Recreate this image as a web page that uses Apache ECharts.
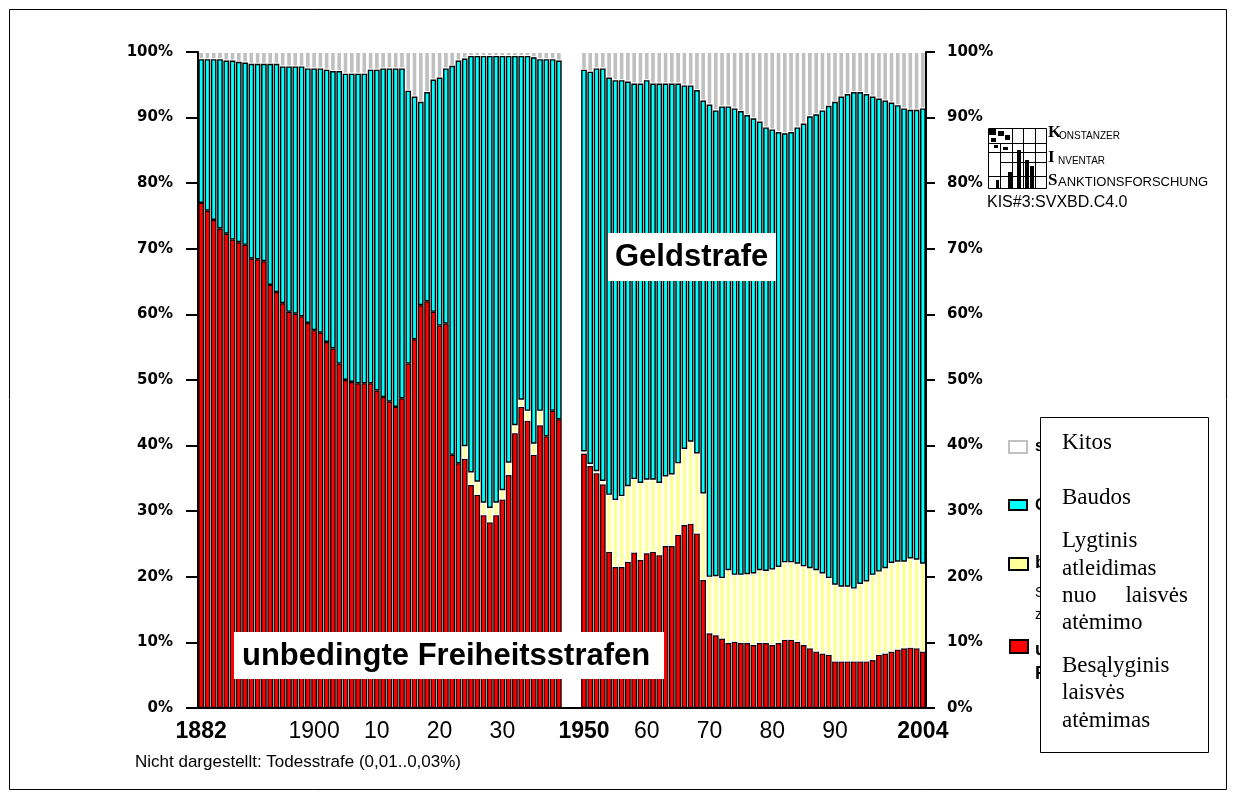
<!DOCTYPE html>
<html><head><meta charset="utf-8">
<script src="https://cdn.jsdelivr.net/npm/echarts@6/dist/echarts.min.js"></script>
<style>html,body{margin:0;padding:0;background:#fff}#c{width:1234px;height:799px}</style>
</head><body><div id="c"></div>
<script>
// ---- categories: 1882-1939, compressed gap, 1950-2004 ----
const yearsA = [];
for (let y = 1882; y <= 1939; y++) yearsA.push(String(y));
const gapSlots = ['', ' ', '  '];
const yearsB = [];
for (let y = 1950; y <= 2004; y++) yearsB.push(String(y));
const categories = yearsA.concat(gapSlots, yearsB);

const xTickLabels = {'1882':'{b|1882}','1900':'1900','1910':'10','1920':'20','1930':'30',
  '1950':'{b|1950}','1960':'60','1970':'70','1980':'80','1990':'90','2004':'{b|2004}'};

// ---- shares in percent, 1882-1939 ----
const redA = [77.0,75.8,74.4,73.1,72.3,71.4,71.0,70.6,68.5,68.4,
  68.1,64.5,63.4,61.7,60.4,60.1,59.7,58.7,57.6,57.2,
  55.8,54.8,52.5,50.0,49.7,49.5,49.5,49.5,48.4,47.4,
  46.7,45.9,47.2,52.5,56.2,61.4,62.0,60.4,58.3,58.6,
  38.6,37.3,38.0,34.0,32.5,29.4,28.3,29.4,31.8,35.5,
  41.9,45.9,43.8,38.6,43.1,41.4,45.3,44.0];
const yellowA = [0,0,0,0,0,0,0,0,0,0,
  0,0,0,0,0,0,0,0,0,0,
  0,0,0,0,0,0,0,0,0,0,
  0,0,0,0,0,0,0,0,0,0,
  0,0,1.9,1.9,2.0,1.9,2.2,1.9,1.4,1.9,
  1.2,1.1,1.5,1.7,2.2,0,0,0];
const cyanA = [21.9,23.1,24.5,25.8,26.4,27.3,27.5,27.8,29.7,29.8,
  30.1,33.7,34.8,36.1,37.4,37.7,38.1,38.8,39.9,40.3,
  41.5,42.3,44.6,46.7,47.0,47.2,47.2,47.8,48.9,50.1,
  50.8,51.6,50.3,41.6,37.0,31.0,31.9,35.4,37.8,38.9,
  59.3,61.4,59.1,63.5,64.9,68.1,68.9,68.1,66.2,62.0,
  56.3,52.4,54.1,58.9,53.6,57.5,53.6,54.7];
const grayA = [1.1,1.1,1.1,1.1,1.3,1.3,1.5,1.6,1.8,1.8,
  1.8,1.8,1.8,2.2,2.2,2.2,2.2,2.5,2.5,2.5,
  2.7,2.9,2.9,3.3,3.3,3.3,3.3,2.7,2.7,2.5,
  2.5,2.5,2.5,5.9,6.8,7.6,6.1,4.2,3.9,2.5,
  2.1,1.3,1.0,0.6,0.6,0.6,0.6,0.6,0.6,0.6,
  0.6,0.6,0.6,0.8,1.1,1.1,1.1,1.3];

// ---- shares in percent, 1950-2004 ----
const redB = [38.8,36.9,35.8,34.1,23.8,21.5,21.5,22.3,23.7,22.6,
  23.6,23.8,23.3,24.7,24.7,26.4,27.9,28.1,26.6,19.5,
  11.4,11.1,10.6,9.9,10.1,9.9,9.9,9.6,9.9,9.9,
  9.6,9.9,10.4,10.4,10.1,9.6,9.1,8.6,8.3,8.1,
  7.1,7.1,7.1,7.1,7.1,7.1,7.3,8.1,8.3,8.6,
  8.9,9.1,9.2,9.1,8.6];
const yellowB = [0.3,0.3,0.3,0.5,8.7,10.2,10.8,11.5,11.2,11.7,
  11.2,11.0,11.0,10.6,10.9,10.9,11.6,12.5,12.2,13.2,
  8.6,9.0,9.2,11.1,10.2,10.4,10.5,10.9,11.1,11.0,
  11.5,11.6,11.8,11.8,11.9,12.0,12.2,12.4,12.2,11.7,
  11.7,11.4,11.4,11.1,11.8,12.2,13.0,12.7,13.0,13.5,
  13.4,13.2,13.6,13.5,13.4];
const cyanB = [58.2,59.8,61.4,62.9,63.6,64.0,63.4,61.7,60.3,60.9,
  60.9,60.4,60.9,59.9,59.6,57.9,55.4,54.3,55.4,59.9,
  72.0,71.0,71.9,70.7,71.1,70.7,70.0,69.4,68.4,67.6,
  67.1,66.3,65.4,65.6,66.5,67.5,68.9,69.5,70.6,72.0,
  73.6,74.7,75.1,75.7,75.0,74.3,72.9,72.1,71.3,70.2,
  69.6,69.1,68.4,68.6,69.4];
const grayB = [2.7,3.0,2.5,2.5,3.9,4.3,4.3,4.5,4.8,4.8,
  4.3,4.8,4.8,4.8,4.8,4.8,5.1,5.1,5.8,7.4,
  8.0,8.9,8.3,8.3,8.6,9.0,9.6,10.1,10.6,11.5,
  11.8,12.2,12.4,12.2,11.5,10.9,9.8,9.5,8.9,8.2,
  7.6,6.8,6.4,6.1,6.1,6.4,6.8,7.1,7.4,7.7,
  8.1,8.6,8.8,8.8,8.6];

const gapValues = [null, null, null];
const red = redA.concat(gapValues, redB);
const yellow = yellowA.concat(gapValues, yellowB);
const cyan = cyanA.concat(gapValues, cyanB);
const gray = grayA.concat(gapValues, grayB);

function barSeries(name, data, color, border, bw, z) {
  return {
    name: name, type: 'bar', stack: 'total', z: z,
    data: data.map(v => (v ? v : null)),
    barCategoryGap: '10%',
    itemStyle: { color: color, borderColor: border, borderWidth: bw },
    emphasis: { disabled: true }, animation: false
  };
}

const yLab = { formatter: '{value}%', fontFamily: 'DejaVu Sans', fontWeight: 'bold', fontSize: 15, color: '#000' };
const serif = { fontFamily: 'Liberation Serif', fontSize: 23, fill: '#000', verticalAlign: 'middle', textVerticalAlign: 'middle' };
function boxText(x, y, t, extra) {
  return { type: 'text', z: 61, x: x, y: y, style: Object.assign({ text: t }, serif, extra || {}) };
}
function line(x1, y1, x2, y2) {
  return { type: 'polyline', z: 50, shape: { points: [[x1, y1], [x2, y2]] }, style: { stroke: '#000', lineWidth: 1 } };
}
function blk(x, y, w, h) {
  return { type: 'rect', z: 50, shape: { x: x, y: y, width: w, height: h }, style: { fill: '#000' } };
}
function hidText(y, t, size, bold) {
  return { type: 'text', z: 50, x: 1035, y: y, style: { text: t, fontFamily: 'Liberation Sans', fontWeight: bold ? 'bold' : 'normal', fontSize: size, fill: '#000', verticalAlign: 'middle', textVerticalAlign: 'middle' } };
}

const chart = echarts.init(document.getElementById('c'), null, { renderer: 'canvas' });
chart.setOption({
  animation: false,
  backgroundColor: '#fff',
  grid: { left: 198, right: 308, top: 52, bottom: 91, containLabel: false },
  xAxis: [{
    type: 'category', data: categories, position: 'bottom', z: 10,
    axisLine: { lineStyle: { color: '#000', width: 2 } },
    axisTick: { show: false },
    axisLabel: {
      interval: 0, margin: 12, fontFamily: 'Liberation Sans', fontSize: 23, color: '#000',
      formatter: v => xTickLabels[v] || '',
      rich: { b: { fontFamily: 'Liberation Sans', fontSize: 23, fontWeight: 'bold', color: '#000' } }
    }
  }, {
    type: 'category', data: categories, position: 'top', z: 10,
    axisLine: { lineStyle: { color: '#000', width: 2 } },
    axisTick: { show: false }, axisLabel: { show: false }
  }],
  yAxis: [{
    type: 'value', min: 0, max: 100, interval: 10, position: 'left', z: 10,
    axisLine: { show: true, lineStyle: { color: '#000', width: 2 } },
    axisTick: { show: true, length: 12, lineStyle: { color: '#000', width: 2 } },
    splitLine: { show: false },
    axisLabel: Object.assign({ margin: 25 }, yLab)
  }, {
    type: 'value', min: 0, max: 100, interval: 10, position: 'right', z: 10,
    axisLine: { show: true, lineStyle: { color: '#000', width: 2 } },
    axisTick: { show: true, length: 9, lineStyle: { color: '#000', width: 2 } },
    splitLine: { show: false },
    axisLabel: Object.assign({ margin: 21 }, yLab)
  }],
  series: [
    barSeries('unbedingte Freiheitsstrafe', red, '#ff0000', '#000', 1.2, 3),
    barSeries('bedingte Freiheitsstrafe', yellow, '#ffff99', '#fff', 1, 4),
    barSeries('Geldstrafe', cyan, '#00ffff', '#000', 1.4, 5),
    barSeries('sonstige', gray, '#c0c0c0', '#fff', 1, 2)
  ],
  graphic: [
    // outer frame
    { type: 'rect', z: 50, shape: { x: 9.5, y: 9.5, width: 1217, height: 780 }, style: { fill: 'none', stroke: '#000', lineWidth: 1 } },
    // in-chart labels
    { type: 'rect', z: 50, shape: { x: 234, y: 632, width: 430, height: 47 }, style: { fill: '#fff' } },
    { type: 'text', z: 51, x: 242, y: 656, style: { text: 'unbedingte Freiheitsstrafen', fontFamily: 'Liberation Sans', fontWeight: 'bold', fontSize: 31, fill: '#000', align: 'left', verticalAlign: 'middle', textAlign: 'left', textVerticalAlign: 'middle' } },
    { type: 'rect', z: 50, shape: { x: 608, y: 233, width: 168, height: 48 }, style: { fill: '#fff' } },
    { type: 'text', z: 51, x: 615, y: 257, style: { text: 'Geldstrafe', fontFamily: 'Liberation Sans', fontWeight: 'bold', fontSize: 31, fill: '#000', align: 'left', verticalAlign: 'middle', textAlign: 'left', textVerticalAlign: 'middle' } },
    // legend swatches
    { type: 'rect', z: 50, shape: { x: 1009, y: 441, width: 18, height: 12 }, style: { fill: '#fff', stroke: '#c0c0c0', lineWidth: 2 } },
    { type: 'rect', z: 50, shape: { x: 1009, y: 500, width: 18, height: 10 }, style: { fill: '#00ffff', stroke: '#000', lineWidth: 2 } },
    { type: 'rect', z: 50, shape: { x: 1009, y: 558, width: 19, height: 12 }, style: { fill: '#ffff99', stroke: '#000', lineWidth: 2 } },
    { type: 'rect', z: 50, shape: { x: 1010, y: 640, width: 18, height: 13 }, style: { fill: '#ff0000', stroke: '#000', lineWidth: 2 } },
    // original legend text, mostly covered by the box
    hidText(447, 'sonstige', 16, true),
    hidText(506, 'Geldstrafe', 16, true),
    hidText(563, 'bedingte', 18, true),
    hidText(593, 'Strafaussetzung', 14, false),
    hidText(615, 'zur Bewährung', 14, false),
    hidText(650, 'unbedingte', 18, true),
    hidText(674, 'Freiheitsstrafe', 18, true),
    // translated legend box
    { type: 'rect', z: 60, shape: { x: 1040.5, y: 417.5, width: 168, height: 335 }, style: { fill: '#fff', stroke: '#000', lineWidth: 1 } },
    boxText(1062, 443, 'Kitos'),
    boxText(1062, 498, 'Baudos'),
    boxText(1062, 541, 'Lygtinis'),
    boxText(1062, 569, 'atleidimas'),
    boxText(1062, 596, 'nuo'),
    boxText(1188, 596, 'laisvės', { align: 'right', textAlign: 'right' }),
    boxText(1062, 623, 'atėmimo'),
    boxText(1062, 666, 'Besąlyginis'),
    boxText(1062, 693, 'laisvės'),
    boxText(1062, 721, 'atėmimas'),
    // KIS logo (simplified grid)
    { type: 'rect', z: 50, shape: { x: 988.5, y: 128.5, width: 58, height: 60 }, style: { fill: 'none', stroke: '#000', lineWidth: 1 } },
    line(1000.5, 143, 1000.5, 188), line(1012.5, 128, 1012.5, 188), line(1023.5, 128, 1023.5, 188), line(1035.5, 128, 1035.5, 188),
    line(988, 143.5, 1046, 143.5), line(988, 152.5, 1046, 152.5), line(1000, 162.5, 1046, 162.5), line(988, 176.5, 1046, 176.5),
    blk(989, 129, 7, 6), blk(998, 131, 6, 5), blk(1005, 135, 5, 5), blk(991, 138, 5, 4), blk(994, 145, 4, 3), blk(1003, 147, 5, 3),
    blk(1017, 150, 4, 38), blk(1025, 160, 4, 28), blk(1030, 166, 4, 22), blk(1008, 172, 4, 16), blk(996, 180, 3, 8),
    { type: 'text', z: 50, x: 1048, y: 141, style: { text: 'K', fontFamily: 'Liberation Serif', fontWeight: 'bold', fontSize: 17, fill: '#000', verticalAlign: 'bottom', textVerticalAlign: 'bottom' } },
    { type: 'text', z: 50, x: 1059, y: 141, style: { text: 'ONSTANZER', fontFamily: 'Liberation Sans', fontSize: 10, fill: '#000', verticalAlign: 'bottom', textVerticalAlign: 'bottom' } },
    { type: 'text', z: 50, x: 1048, y: 166, style: { text: 'I', fontFamily: 'Liberation Serif', fontWeight: 'bold', fontSize: 17, fill: '#000', verticalAlign: 'bottom', textVerticalAlign: 'bottom' } },
    { type: 'text', z: 50, x: 1058, y: 166, style: { text: 'NVENTAR', fontFamily: 'Liberation Sans', fontSize: 10, fill: '#000', verticalAlign: 'bottom', textVerticalAlign: 'bottom' } },
    { type: 'text', z: 50, x: 1048, y: 189, style: { text: 'S', fontFamily: 'Liberation Serif', fontWeight: 'bold', fontSize: 17, fill: '#000', verticalAlign: 'bottom', textVerticalAlign: 'bottom' } },
    { type: 'text', z: 50, x: 1058, y: 189, style: { text: 'ANKTIONSFORSCHUNG', fontFamily: 'Liberation Sans', fontSize: 13, fill: '#000', verticalAlign: 'bottom', textVerticalAlign: 'bottom' } },
    { type: 'text', z: 50, x: 987, y: 203, style: { text: 'KIS#3:SVXBD.C4.0', fontFamily: 'Liberation Sans', fontSize: 16, fill: '#000', verticalAlign: 'middle', textVerticalAlign: 'middle' } },
    // footnote
    { type: 'text', z: 50, x: 135, y: 762, style: { text: 'Nicht dargestellt: Todesstrafe (0,01..0,03%)', fontFamily: 'Liberation Sans', fontSize: 17, fill: '#000', verticalAlign: 'middle', textVerticalAlign: 'middle' } }
  ]
});
</script></body></html>
